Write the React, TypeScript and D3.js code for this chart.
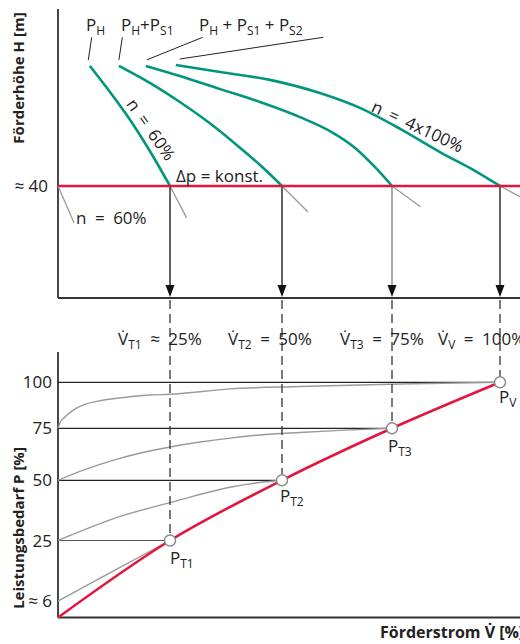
import React from 'react';
import * as d3 from 'd3';

// ---------- data ----------
const flowMarks = [25, 50, 75, 100]; // V̇ operating points [%]
const flowSubs = ['T1', 'T2', 'T3', 'V'];
const flowRel = ['≈', '=', '=', '='];
const flowVals = ['25%', '50%', '75%', '100%'];
const headConst = 40; // Δp = konst. [m]

// pump curves in the H/V̇ diagram: [V̇ %, H m]
const curvePH: [number, number][] = [[7.1, 82.9], [11.6, 73.6], [16.1, 63.6], [20.5, 52.5], [25, 40]];
const curvePS1: [number, number][] = [[13.6, 82.9], [20.5, 76.8], [27.2, 70.0], [33.9, 62.4], [40.6, 53.7], [45.1, 47.5], [50, 40]];
const curvePS2: [number, number][] = [[19.6, 82.9], [27.2, 79.3], [36.2, 74.6], [45.1, 70.0], [54.1, 64.6], [60.9, 59.6], [66.6, 53.6], [71.1, 46.8], [75, 40]];
const curveFull: [number, number][] = [[26.3, 83.2], [36.2, 80.7], [47.3, 77.9], [58.6, 73.2], [67.7, 67.9], [76.9, 60.4], [86.1, 52.1], [93.1, 46.4], [100, 40]];
// grey continuations below Δp = konst.
const extN60: [number, number][] = [[0, 40], [3.6, 26.8]];
const extPH: [number, number][] = [[25, 40], [28.7, 28.6]];
const extPS1: [number, number][] = [[50, 40], [55.9, 30.7]];
const extPS2: [number, number][] = [[75, 40], [81.6, 32.6]];
const extFull: [number, number][] = [[100, 40], [106.9, 34.3]];

// power diagram: [V̇ %, P %]
const powerDemand: [number, number][] = [[0, 0], [25, 25], [50, 50], [75, 75], [100, 100]];
const powerT1: [number, number][] = [[0, 6], [12.7, 15.7], [25, 25]];
const powerT2: [number, number][] = [[0, 25], [5.8, 29.4], [13.2, 34.6], [25, 40.7], [38.4, 47.1], [44.2, 48.9], [50, 50]];
const powerT3: [number, number][] = [[0, 50], [5.8, 55.0], [13.2, 60.2], [19.4, 63.6], [25, 66.0], [31.7, 68.4], [38.4, 70.3], [45.1, 71.8], [54.1, 73.0], [63.2, 74.0], [75, 75]];
const powerV: [number, number][] = [[0, 75], [0.4, 77.7], [1.6, 81.3], [3.4, 84.9], [5.7, 87.7], [9.4, 90.0], [13.1, 91.3], [20.5, 93.1], [25, 93.5], [38.4, 96.4], [54.1, 97.7], [76.9, 99.1], [100, 100]];
const powerTicks = [100, 75, 50, 25, 6];
const powerTickLabels = ['100', '75', '50', '25', '≈ 6'];

// ---------- layout ----------
const W = 520, H = 644;
const FONT = "'Open Sans', 'Noto Sans', sans-serif";
const GREEN = '#00967d';
const RED = '#e3173e';
const GREY = '#9a9a9a';
const INK = '#222';
const SP = '\u2002';

const x = d3.scaleLinear().domain([0, 25, 50, 75, 100]).range([58, 170, 282, 392, 500]);
const yH = d3.scaleLinear().domain([0, headConst]).range([298, 186]);
const yP = d3.scaleLinear().domain([0, 6, 25, 50, 75, 100]).range([617.5, 601, 540.5, 480.3, 428.3, 382.3]);

const lineH = d3.line<[number, number]>().x(d => x(d[0])).y(d => yH(d[1])).curve(d3.curveMonotoneX);
const lineP = d3.line<[number, number]>().x(d => x(d[0])).y(d => yP(d[1])).curve(d3.curveMonotoneX);

type Part = string | { s: string };
function Rich({ x: tx, y: ty, parts, size = 17, sub = 12, anchor = 'start', fill = INK, weight }: any) {
  let shifted = false;
  const nodes = (parts as Part[]).map((p, i) => {
    const isSub = typeof p !== 'string';
    const t = isSub ? (p as any).s : (p as string);
    let dy: number | undefined;
    if (isSub && !shifted) { dy = 4; shifted = true; }
    else if (!isSub && shifted) { dy = -4; shifted = false; }
    return <tspan key={i} dy={dy} fontSize={isSub ? sub : size}>{t}</tspan>;
  });
  return <text x={tx} y={ty} textAnchor={anchor} fill={fill} fontWeight={weight} fontFamily={FONT}>{nodes}</text>;
}

export default function App() {
  const topAxisY = yH(0);
  const botAxisY = yP(0);
  const labelStarts = [-52, -54, -52, -62];
  return (
    <svg width={W} height={H} style={{ position: 'absolute', left: 0, top: 0, background: '#fff' }} fontFamily={FONT}>
      {/* ---------- top diagram ---------- */}
      <line x1={58} y1={9} x2={58} y2={topAxisY} stroke="#333" strokeWidth={1.8} />
      <line x1={58} y1={topAxisY} x2={W} y2={topAxisY} stroke="#333" strokeWidth={1.8} />
      <text transform={`translate(24,78) rotate(-90)`} textAnchor="middle" fontSize={15} fontWeight="bold" fill={INK}>Förderhöhe H [m]</text>
      <text x={48} y={192} textAnchor="end" fontSize={17} fill={INK}>≈ 40</text>

      {/* grey continuations */}
      {[extN60, extPH, extPS1, extPS2, extFull].map((d, i) => (
        <path key={i} d={lineH(d) || ''} fill="none" stroke={GREY} strokeWidth={1.3} />
      ))}
      {/* vertical arrows */}
      {flowMarks.map((q, i) => (
        <g key={q}>
          <line x1={x(q)} y1={yH(headConst)} x2={x(q)} y2={topAxisY - 12} stroke={i === 2 ? '#888' : '#222'} strokeWidth={1.4} />
          <path d={`M${x(q) - 4.5},${topAxisY - 13} L${x(q) + 4.5},${topAxisY - 13} L${x(q)},${topAxisY - 1} Z`} fill="#111" />
        </g>
      ))}
      {/* pump curves */}
      {[curvePH, curvePS1, curvePS2, curveFull].map((d, i) => (
        <path key={i} d={lineH(d) || ''} fill="none" stroke={GREEN} strokeWidth={2.6} />
      ))}
      {/* Δp = konst. */}
      <line x1={58} y1={yH(headConst)} x2={W} y2={yH(headConst)} stroke={RED} strokeWidth={2.6} />
      <text x={176} y={182} fontSize={17} fill={INK}>Δp = konst.</text>
      <text x={76} y={224} fontSize={17} fill={INK}>{`n${SP}=${SP}60%`}</text>
      <text transform="translate(146,133) rotate(55)" textAnchor="middle" fontSize={17} fill={INK}>{`n${SP}=${SP}60%`}</text>
      <text transform="translate(415,132) rotate(25)" textAnchor="middle" fontSize={17} fill={INK}>{`n${SP}=${SP}4x100%`}</text>

      {/* curve legends */}
      <Rich x={86} y={31} parts={['P', { s: 'H' }]} />
      <Rich x={121} y={31} parts={['P', { s: 'H' }, '+P', { s: 'S1' }]} />
      <Rich x={199} y={31} parts={['P', { s: 'H' }, ' + P', { s: 'S1' }, ' + P', { s: 'S2' }]} />
      {[curvePH, curvePS1, curvePS2, curveFull].map((d, i) => {
        const ends = [[91.7, 37.3], [122.3, 37.3], [202.7, 37.3], [323.3, 37.3]][i];
        const sx = x(d[0][0]) + [-1.5, -0, 1, 4][i];
        const sy = yH(d[0][1]) - 6;
        return <line key={i} x1={ends[0]} y1={ends[1]} x2={sx} y2={sy} stroke="#222" strokeWidth={1} />;
      })}

      {/* ---------- bottom diagram ---------- */}
      <line x1={58} y1={352} x2={58} y2={botAxisY} stroke="#333" strokeWidth={1.8} />
      <line x1={58} y1={botAxisY} x2={W} y2={botAxisY} stroke="#333" strokeWidth={1.8} />
      <text transform={`translate(24,528) rotate(-90)`} textAnchor="middle" fontSize={15} fontWeight="bold" fill={INK}>Leistungsbedarf P [%]</text>
      <text x={380} y={638} fontSize={16} fontWeight="bold" fill={INK}>Förderstrom V̇ [%]</text>

      {powerTicks.map((p, i) => (
        <text key={p} x={52} y={yP(p) + 6} textAnchor="end" fontSize={17} fill={INK}>{powerTickLabels[i]}</text>
      ))}
      {/* horizontal lines to operating points */}
      {flowMarks.map((q, i) => (
        <line key={q} x1={58} y1={yP(q)} x2={x(q)} y2={yP(q)} stroke={i === 0 ? '#555' : '#222'} strokeWidth={1.2} />
      ))}
      {/* power curves */}
      {[powerT1, powerT2, powerT3, powerV].map((d, i) => (
        <path key={i} d={lineP(d) || ''} fill="none" stroke={GREY} strokeWidth={1.4} />
      ))}
      {/* dashed verticals */}
      {flowMarks.map((q) => (
        <line key={q} x1={x(q)} y1={topAxisY + 2} x2={x(q)} y2={yP(q) - 6} stroke="#333" strokeWidth={1.3} strokeDasharray="9,5" />
      ))}
      <path d={lineP(powerDemand) || ''} fill="none" stroke={RED} strokeWidth={2.6} />
      {flowMarks.map((q) => (
        <circle key={q} cx={x(q)} cy={yP(q)} r={5.5} fill="#fff" stroke="#888" strokeWidth={1.4} />
      ))}
      {/* point labels */}
      {flowMarks.map((q, i) => {
        const off = [[0, 23], [-2, 22], [-4, 24], [-1, 21]][i];
        return <Rich key={q} x={x(q) + off[0]} y={yP(q) + off[1]} parts={['P', { s: flowSubs[i] }]} />;
      })}
      {/* flow labels */}
      {flowMarks.map((q, i) => (
        <Rich key={q} x={x(q) + labelStarts[i]} y={345} parts={['V\u0307', { s: flowSubs[i] }, `${SP}${flowRel[i]}${SP}${flowVals[i]}`]} />
      ))}
    </svg>
  );
}
